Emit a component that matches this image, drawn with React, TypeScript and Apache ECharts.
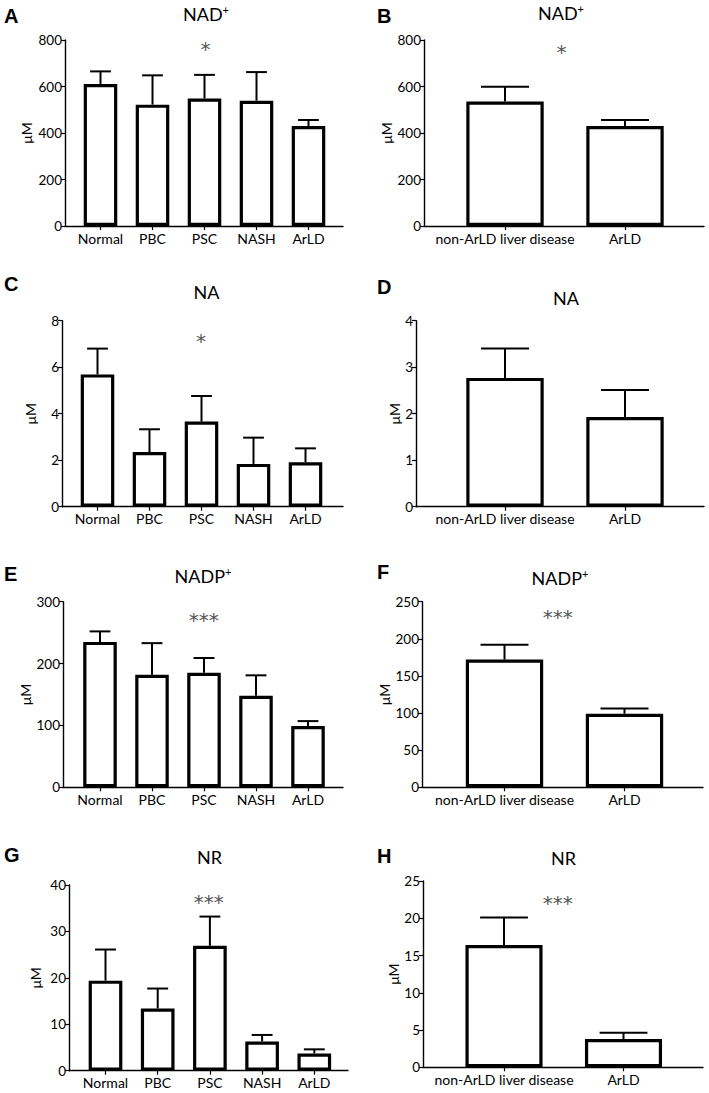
import React, { useEffect, useRef } from "react";
import * as echarts from "echarts";

// ---- data ----
const groups5 = ["Normal", "PBC", "PSC", "NASH", "ArLD"];
const groups2 = ["non-ArLD liver disease", "ArLD"];

const nadMean5 = [611, 522, 548, 539, 430];
const nadUpper5 = [665, 648, 650, 662, 456];
const nadMean2 = [535, 430];
const nadUpper2 = [599, 456];

const naMean5 = [5.69, 2.35, 3.66, 1.84, 1.91];
const naUpper5 = [6.8, 3.33, 4.76, 2.97, 2.51];
const naMean2 = [2.77, 1.93];
const naUpper2 = [3.4, 2.51];

const nadpMean5 = [235, 182, 185, 148, 99];
const nadpUpper5 = [252, 233, 209, 181, 107];
const nadpMean2 = [172, 99];
const nadpUpper2 = [192, 106];

const nrMean5 = [19.4, 13.4, 26.9, 6.3, 3.7];
const nrUpper5 = [26.1, 17.7, 33.2, 7.7, 4.6];
const nrMean2 = [16.4, 3.8];
const nrUpper2 = [20.1, 4.65];

const panelLetters = ["A", "B", "C", "D", "E", "F", "G", "H"];
const panelTitles = ["NAD", "NAD", "NA", "NA", "NADP", "NADP", "NR", "NR"];
const titlePlus = [true, true, false, false, true, true, false, false];
const yMaxes = [800, 800, 8, 4, 300, 250, 40, 25];
const yIntervals = [200, 200, 2, 1, 100, 50, 10, 5];
const stars = ["*", "*", "*", "", "***", "***", "***", "***"];

const panelData = [
  { cats: groups5, mean: nadMean5, upper: nadUpper5 },
  { cats: groups2, mean: nadMean2, upper: nadUpper2 },
  { cats: groups5, mean: naMean5, upper: naUpper5 },
  { cats: groups2, mean: naMean2, upper: naUpper2 },
  { cats: groups5, mean: nadpMean5, upper: nadpUpper5 },
  { cats: groups2, mean: nadpMean2, upper: nadpUpper2 },
  { cats: groups5, mean: nrMean5, upper: nrUpper5 },
  { cats: groups2, mean: nrMean2, upper: nrUpper2 },
];

// ---- layout (pixels) ----
const layout = [
  { left: 65, top: 40, zero: 226, right: 343, c0: 100.5, step: 52, nameGap: 32, letter: [4, 15.5], title: [206, 14], star: [205.5, 49] },
  { left: 424, top: 40, zero: 226, right: 704, c0: 505, step: 120, nameGap: 31, letter: [377, 15.5], title: [561, 13], star: [561.5, 52] },
  { left: 62, top: 320.7, zero: 506.7, right: 343, c0: 97.5, step: 52, nameGap: 25, letter: [4, 284], title: [206.5, 292], star: [201, 341] },
  { left: 416, top: 320.7, zero: 506.7, right: 704, c0: 505, step: 120, nameGap: 14, letter: [377, 286.5], title: [566, 297.5], star: [0, 0] },
  { left: 63, top: 601.7, zero: 787.3, right: 343, c0: 100, step: 52, nameGap: 30, letter: [4, 573.5], title: [203, 576], star: [203.7, 620] },
  { left: 422, top: 601.7, zero: 787.3, right: 703, c0: 504.5, step: 120, nameGap: 29, letter: [377, 571.5], title: [560, 578], star: [557.7, 617] },
  { left: 69, top: 885, zero: 1070.7, right: 348, c0: 105.5, step: 52.2, nameGap: 27, letter: [4, 855], title: [209.5, 857], star: [208.8, 901.5] },
  { left: 423, top: 881, zero: 1067.3, right: 703, c0: 504, step: 119.5, nameGap: 21, letter: [377, 855.5], title: [563.5, 858], star: [557.7, 903] },
];

const FONT = "Lato, 'Open Sans', sans-serif";

export default function App() {
  const ref = useRef<HTMLDivElement>(null);
  useEffect(() => {
    if (!ref.current) return;
    const chart = echarts.init(ref.current, undefined, { renderer: "svg" });

    const grid: any[] = [];
    const xAxis: any[] = [];
    const yAxis: any[] = [];
    const series: any[] = [];
    const graphic: any[] = [];

    layout.forEach((L, i) => {
      const d = panelData[i];
      grid.push({ left: L.left, top: L.top, width: L.right - L.left, height: L.zero - L.top, containLabel: false });
      const idxs = d.cats.map((_, k) => k);
      xAxis.push({
        type: "value",
        gridIndex: i,
        min: -(L.c0 - L.left) / L.step,
        max: (L.right - L.c0) / L.step,
        splitLine: { show: false },
        axisLine: { show: true, onZero: false, lineStyle: { color: "#000", width: 1.4 } },
        axisTick: { show: true, length: 4, customValues: idxs, lineStyle: { color: "#000", width: 1.2 } },
        axisLabel: {
          customValues: idxs,
          formatter: (v: number) => d.cats[Math.round(v)] ?? "",
          color: "#000",
          fontSize: 14,
          fontFamily: FONT,
          margin: 5,
        },
      });
      yAxis.push({
        type: "value",
        gridIndex: i,
        min: 0,
        max: yMaxes[i],
        interval: yIntervals[i],
        splitLine: { show: false },
        axisLine: { show: true, onZero: false, lineStyle: { color: "#000", width: 1.4 } },
        axisTick: { show: true, length: 4, lineStyle: { color: "#000", width: 1.2 } },
        axisLabel: { color: "#000", fontSize: 13.5, fontFamily: FONT, margin: 3 },
        name: "μM",
        nameLocation: "middle",
        nameRotate: 90,
        nameGap: L.nameGap,
        nameTextStyle: { color: "#000", fontSize: 14, fontFamily: FONT },
      });
      series.push({
        type: "custom",
        xAxisIndex: i,
        yAxisIndex: i,
        z: 1,
        data: d.mean.map((m, k) => [k, m, d.upper[k]]),
        renderItem: (params: any, api: any) => {
          const x = api.value(0);
          const p0 = api.coord([x, api.value(1)]);
          const p1 = api.coord([x, api.value(2)]);
          const half = api.size([1, 0])[0] * 0.2;
          return {
            type: "group",
            children: [
              { type: "line", shape: { x1: p0[0], y1: p0[1], x2: p1[0], y2: p1[1] }, style: { stroke: "#000", lineWidth: 2 } },
              { type: "line", shape: { x1: p1[0] - half, y1: p1[1], x2: p1[0] + half, y2: p1[1] }, style: { stroke: "#000", lineWidth: 2 } },
            ],
          };
        },
      });
      series.push({
        type: "bar",
        xAxisIndex: i,
        yAxisIndex: i,
        z: 2,
        barWidth: L.step * 0.645,
        data: d.mean.map((m, k) => [k, m]),
        itemStyle: { color: "#fff", borderColor: "#000", borderWidth: 3.2 },
      });

      graphic.push({
        type: "text",
        x: L.letter[0],
        y: L.letter[1],
        style: { text: panelLetters[i], fontSize: 20, fontWeight: "bold", fontFamily: "'Liberation Sans', Arial, sans-serif", fill: "#000", textVerticalAlign: "middle", textAlign: "left" },
      });
      graphic.push({
        type: "text",
        x: L.title[0],
        y: L.title[1],
        style: {
          text: titlePlus[i] ? `{m|${panelTitles[i]}}{s|+}` : `{m|${panelTitles[i]}}`,
          textAlign: "center",
          textVerticalAlign: "middle",
          rich: {
            m: { fontSize: 18, fontFamily: FONT, fill: "#000", lineHeight: 20 },
            s: { fontSize: 11, fontFamily: FONT, fill: "#000", verticalAlign: "top", lineHeight: 20 },
          },
        },
      });
      if (stars[i]) {
        graphic.push({
          type: "text",
          x: L.star[0],
          y: L.star[1],
          style: { text: stars[i], fontSize: 20, fontFamily: "'DejaVu Sans', sans-serif", fill: "#555", textAlign: "center", textVerticalAlign: "middle" },
        });
      }
    });

    chart.setOption({
      animation: false,
      backgroundColor: "#fff",
      grid,
      xAxis,
      yAxis,
      series,
      graphic,
    });
    return () => chart.dispose();
  }, []);
  return <div ref={ref} style={{ position: "absolute", left: 0, top: 0, width: 709, height: 1093 }} />;
}
